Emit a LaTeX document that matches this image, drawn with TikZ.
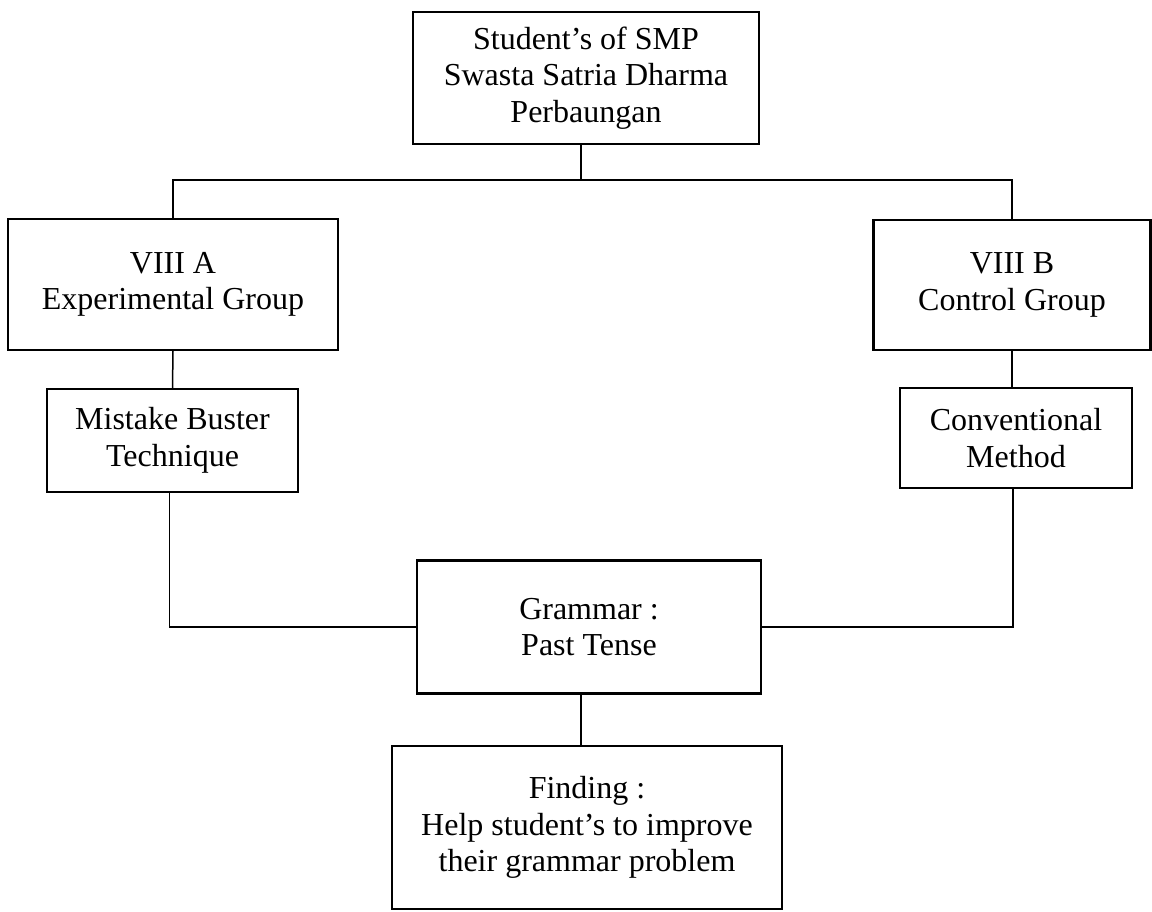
\documentclass[tikz,border=0pt]{standalone}
\usepackage{fontspec}
\setmainfont{Liberation Serif}
\begin{document}
\begin{tikzpicture}[x=1pt,y=-1pt,
  box/.style={draw, line width=2.2pt, align=center, inner sep=0pt,
    font=\fontsize{32}{36.5}\selectfont},
  conn/.style={line width=1.5pt}]
\useasboundingbox (0,0) rectangle (1152,912);
\node[box, minimum width=346pt, minimum height=132pt] (top) at (586,78)
  {Student’s of SMP\\Swasta Satria Dharma\\Perbaungan};
\node[box, minimum width=330pt, minimum height=131pt] (A) at (173,284.5)
  {VIII A\\Experimental Group};
\node[box, minimum width=277pt, minimum height=130pt] (B) at (1012,285)
  {VIII B\\Control Group};
\node[box, minimum width=251pt, minimum height=103pt] (MB) at (172.5,440.5)
  {Mistake Buster\\Technique};
\node[box, minimum width=232pt, minimum height=100pt] (CM) at (1016,438)
  {Conventional\\Method};
\node[box, minimum width=344pt, minimum height=133pt] (G) at (589,627)
  {Grammar :\\Past Tense};
\node[box, minimum width=390pt, minimum height=163pt] (F) at (587,827.5)
  {Finding :\\Help student’s to improve\\their grammar problem};
\coordinate (hub) at (581,180);
\draw[conn] ([xshift=-5pt]top.south) -- (hub);
\draw[conn] (A.north) |- (hub) -| (B.north);
\draw[conn] (A.south) -- (MB.north);
\draw[conn] (B.south) -- ([xshift=-4pt]CM.north);
\draw[conn] ([xshift=-3pt]MB.south) |- (G.west);
\draw[conn] ([xshift=-3pt]CM.south) |- (G.east);
\draw[conn] ([xshift=-8pt]G.south) -- ([xshift=-6pt]F.north);
\end{tikzpicture}
\end{document}
